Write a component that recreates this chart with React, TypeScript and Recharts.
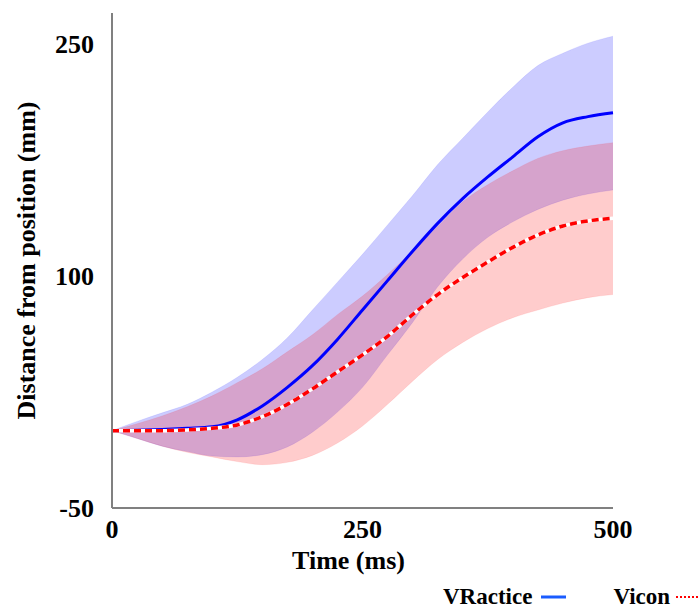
import { ComposedChart, Area, Line, XAxis, YAxis, Label } from 'recharts';

const time = [0, 25, 50, 75, 100, 125, 150, 175, 200, 225, 250, 275, 300, 325, 350, 375, 400, 425, 450, 475, 500];

const vracticeMean = [0, 0.3, 0.8, 1.5, 2.5, 7, 16, 28, 42, 59, 78, 97, 116, 134, 150, 164, 177, 190, 199, 203, 205.5];
const vracticeLow = [0, -5, -10, -13.5, -16.4, -17, -15.5, -10.5, -1, 12, 28, 49, 70, 93, 111, 125, 135, 143, 149, 153, 155.6];
const vracticeHigh = [0, 6, 11.5, 17, 25, 34.5, 46, 60, 78, 96, 114, 133, 152, 172, 189, 206, 222, 236, 244, 250.5, 255];

const viconMean = [0, 0, 0, 0.5, 1.5, 3.7, 9, 17, 27, 38, 49, 61, 75, 88, 99, 109, 118.5, 126.5, 132.3, 135.6, 137.3];
const viconLow = [0, -5, -10, -14, -17, -20, -22, -20.5, -16, -8, 3, 17, 32, 46, 57, 66, 73, 78, 82.5, 86, 88];
const viconHigh = [0, 4.5, 9.5, 15.5, 22.5, 31, 40, 51, 62, 75, 87, 101, 116, 132, 148, 159, 168, 176, 181, 184, 186.2];

const xTicks = [0, 250, 500];
const yTicks = [-50, 100, 250];

const data = time.map((t, i) => ({
  t,
  vractice: vracticeMean[i],
  vracticeBand: [vracticeLow[i], vracticeHigh[i]],
  vicon: viconMean[i],
  viconBand: [viconLow[i], viconHigh[i]],
}));

const FONT = '"Liberation Serif", "Times New Roman", serif';

const legendItems = [
  { name: 'VRactice', color: '#1a5cff', dash: undefined as string | undefined, lineWidth: 25, lineGap: 9, gap: 47 },
  { name: 'Vicon', color: '#ff0000', dash: '2 2', lineWidth: 22, lineGap: 6, gap: 0 },
];

export default function App() {
  return (
    <div style={{ position: 'absolute', left: 0, top: 0, width: 698, height: 610, background: '#fff', overflow: 'hidden' }}>
      <ComposedChart
        width={698}
        height={610}
        data={data}
        margin={{ top: 13, right: 85, bottom: 32, left: 0 }}
      >
        <XAxis
          dataKey="t"
          type="number"
          domain={[0, 500]}
          ticks={xTicks}
          tickLine={false}
          axisLine={{ stroke: '#808080', strokeWidth: 2 }}
          height={70}
          tick={{ fill: '#000', fontSize: 26, fontWeight: 'bold', fontFamily: FONT }}
          tickMargin={6}
        >
          <Label
            value="Time (ms)"
            position="insideBottom"
            offset={9}
            dx={-14}
            style={{ fill: '#000', fontSize: 26, fontWeight: 'bold', fontFamily: FONT }}
          />
        </XAxis>
        <YAxis
          type="number"
          domain={[-50, 270]}
          ticks={yTicks}
          tickLine={false}
          axisLine={{ stroke: '#808080', strokeWidth: 2 }}
          width={112}
          tick={{ fill: '#000', fontSize: 26, fontWeight: 'bold', fontFamily: FONT }}
          tickMargin={12}
        >
          <Label
            value="Distance from position (mm)"
            angle={-90}
            position="insideLeft"
            offset={26}
            style={{ textAnchor: 'middle', fill: '#000', fontSize: 26, fontWeight: 'bold', fontFamily: FONT }}
          />
        </YAxis>
        <Area
          type="monotone"
          dataKey="vracticeBand"
          stroke="#0000ff"
          strokeOpacity={0.08}
          fill="#0000ff"
          fillOpacity={0.2}
          isAnimationActive={false}
          activeDot={false}
        />
        <Area
          type="monotone"
          dataKey="viconBand"
          stroke="#ff0000"
          strokeOpacity={0.08}
          fill="#ff0000"
          fillOpacity={0.2}
          isAnimationActive={false}
          activeDot={false}
        />
        <Line
          type="monotone"
          dataKey="vractice"
          stroke="#0000ff"
          strokeWidth={3}
          dot={false}
          isAnimationActive={false}
        />
        <Line
          type="monotone"
          dataKey="vicon"
          stroke="#ffffff"
          strokeWidth={3.5}
          dot={false}
          isAnimationActive={false}
          legendType="none"
        />
        <Line
          type="monotone"
          dataKey="vicon"
          stroke="#ff0000"
          strokeWidth={3.5}
          strokeDasharray="7 4"
          dot={false}
          isAnimationActive={false}
        />
      </ComposedChart>
      <div
        style={{
          position: 'absolute',
          left: 443,
          top: 587,
          display: 'flex',
          alignItems: 'center',
          fontFamily: FONT,
          fontWeight: 'bold',
          fontSize: 23,
          lineHeight: '20px',
          color: '#000',
          whiteSpace: 'nowrap',
        }}
      >
        {legendItems.map((item) => (
          <span key={item.name} style={{ display: 'flex', alignItems: 'center', marginRight: item.gap }}>
            <span>{item.name}</span>
            <svg width={item.lineWidth} height={6} style={{ marginLeft: item.lineGap }}>
              <line
                x1={0}
                y1={3}
                x2={item.lineWidth}
                y2={3}
                stroke={item.color}
                strokeWidth={item.dash ? 2 : 3}
                strokeDasharray={item.dash}
              />
            </svg>
          </span>
        ))}
      </div>
    </div>
  );
}
